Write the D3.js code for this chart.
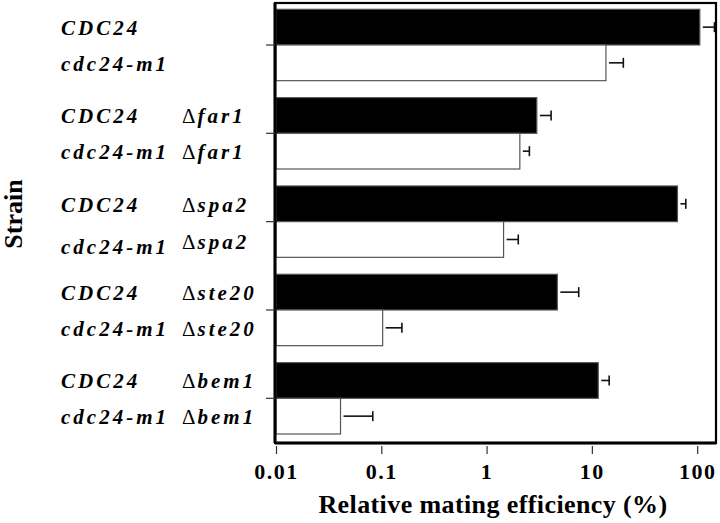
<!DOCTYPE html>
<html><head><meta charset="utf-8">
<script src="https://cdn.jsdelivr.net/npm/d3@7"></script>
<style>
html,body{margin:0;padding:0;background:#fff;}
svg{display:block;}
</style></head>
<body>
<script>
// ---- data ----
const genotypes = ["", "far1", "spa2", "ste20", "bem1"];
const strainNames = ["CDC24", "cdc24-m1"];
const wtValues = [106, 3.0, 65, 4.7, 11.5];
const wtUpper  = [146, 4.1, 78, 7.5, 14.6];
const m1Values = [13.6, 2.07, 1.45, 0.103, 0.041];
const m1Upper  = [19.9, 2.55, 2.0, 0.157, 0.083];
const xTicks = [0.01, 0.1, 1, 10, 100];
const xTickLabels = ["0.01", "0.1", "1", "10", "100"];

const W = 720, H = 523;
const svg = d3.select("body").append("svg").attr("width", W).attr("height", H);
const serif = "'Liberation Serif', 'Times New Roman', serif";

const box = {left: 275, right: 716, top: 3, bottom: 443};

const x = d3.scaleLog().domain([0.01, 151]).range([276, 716]);
const yGroup = d3.scaleBand().domain(d3.range(genotypes.length)).range([9.3, 434]).paddingInner(0.192).paddingOuter(0);
const yBar = d3.scaleBand().domain([0, 1]).range([0, yGroup.bandwidth()]).padding(0);

const rows = [];
genotypes.forEach((g, i) => {
  rows.push({g: i, s: 0, v: wtValues[i], u: wtUpper[i], geno: g});
  rows.push({g: i, s: 1, v: m1Values[i], u: m1Upper[i], geno: g});
});

// bars
svg.append("g").selectAll("rect").data(rows).join("rect")
  .attr("x", x(0.01))
  .attr("y", d => yGroup(d.g) + yBar(d.s))
  .attr("width", d => x(d.v) - x(0.01))
  .attr("height", yBar.bandwidth())
  .attr("fill", d => d.s === 0 ? "#000" : "#fff")
  .attr("stroke", "#555").attr("stroke-width", 1.2);

// error bars
const eb = svg.append("g").attr("stroke", "#111").attr("stroke-width", 1.6);
rows.forEach(d => {
  const cy = yGroup(d.g) + yBar(d.s) + yBar.bandwidth() / 2;
  eb.append("line").attr("x1", x(d.v) + 3).attr("x2", x(d.u)).attr("y1", cy).attr("y2", cy);
  eb.append("line").attr("x1", x(d.u)).attr("x2", x(d.u)).attr("y1", cy - 5).attr("y2", cy + 5);
});

// frame
svg.append("rect").attr("x", box.left).attr("y", box.top)
  .attr("width", box.right - box.left).attr("height", box.bottom - box.top)
  .attr("fill", "none").attr("stroke", "#000").attr("stroke-width", 2.2);
svg.append("line").attr("x1", box.left).attr("x2", box.left).attr("y1", box.top).attr("y2", box.bottom)
  .attr("stroke", "#000").attr("stroke-width", 3);
svg.append("line").attr("x1", box.left).attr("x2", box.right).attr("y1", box.bottom).attr("y2", box.bottom)
  .attr("stroke", "#000").attr("stroke-width", 3);

// left ticks (between strains of each group)
svg.append("g").selectAll("line").data(d3.range(genotypes.length)).join("line")
  .attr("x1", 266).attr("x2", box.left)
  .attr("y1", d => yGroup(d) + yBar(1)).attr("y2", d => yGroup(d) + yBar(1))
  .attr("stroke", "#333").attr("stroke-width", 1.2);

// x axis
const xAxis = d3.axisBottom(x).tickValues(xTicks).tickFormat((d, i) => xTickLabels[i]).tickSize(8).tickPadding(10);
const gx = svg.append("g").attr("transform", `translate(0,${box.bottom + 3})`).call(xAxis);
gx.select(".domain").remove();
gx.selectAll(".tick line").attr("stroke", "#333").attr("stroke-width", 1.2);
gx.selectAll(".tick text")
  .attr("font-family", serif)
  .attr("font-weight", "bold").attr("font-size", 22).attr("fill", "#000")
  .attr("letter-spacing", "1.5px")
  .attr("dy", null).attr("y", 33);

// x title
svg.append("text").attr("x", 493).attr("y", 513).attr("text-anchor", "middle")
  .attr("font-family", serif)
  .attr("font-weight", "bold").attr("font-size", 26).attr("letter-spacing", "0.4px").attr("fill", "#000")
  .text("Relative mating efficiency (%)");

// y title
svg.append("text").attr("transform", "translate(22,214) rotate(-90)").attr("text-anchor", "middle")
  .attr("font-family", serif)
  .attr("font-weight", "bold").attr("font-size", 26).attr("fill", "#000")
  .text("Strain");

// row labels
const lab = svg.append("g")
  .attr("font-family", serif)
  .attr("font-weight", "bold").attr("font-style", "italic").attr("font-size", 21)
  .attr("letter-spacing", "3px").attr("fill", "#000");
rows.forEach(d => {
  const cy = yGroup(d.g) + yBar(d.s) + yBar.bandwidth() / 2;
  const quirk = (d.g === 2 && d.s === 1);
  lab.append("text").attr("x", 61).attr("y", cy + (quirk ? 15 : 8)).text(strainNames[d.s]);
  if (d.geno) {
    const t = lab.append("text").attr("x", 182).attr("y", cy + (quirk ? 10 : 8));
    t.append("tspan").attr("font-style", "normal").attr("font-weight", "normal").attr("letter-spacing", "2px").text("Δ");
    t.append("tspan").text(d.geno);
  }
});
</script>
</body></html>
